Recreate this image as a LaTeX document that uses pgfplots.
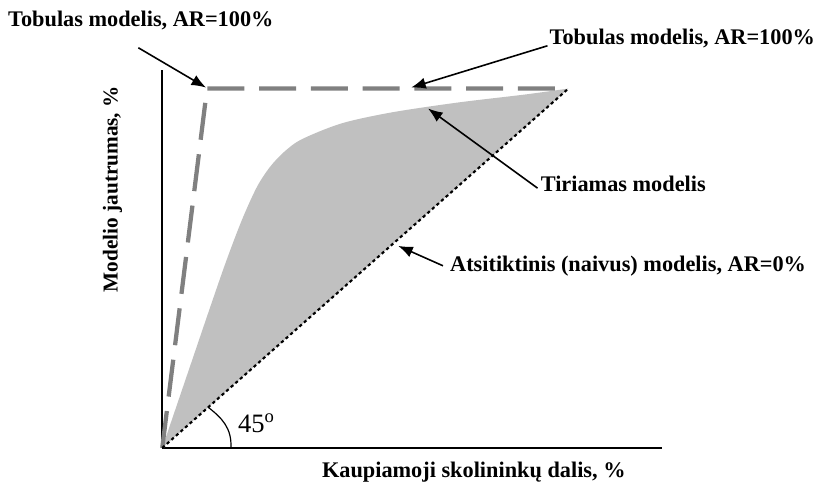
\documentclass[border=0pt]{standalone}
\usepackage{fontspec}
\setmainfont{Liberation Serif}
\usepackage{pgfplots}
\pgfplotsset{compat=1.18}
\usetikzlibrary{arrows.meta}
\definecolor{areagray}{HTML}{C0C0C0}
\definecolor{dashgray}{HTML}{808080}
\begin{document}
\begin{tikzpicture}
\begin{axis}[
  x=0.75pt, y=0.75pt,
  xmin=0, xmax=502, ymin=0, ymax=380,
  axis lines=left,
  axis line style={-, line width=1.2pt, black},
  xtick=\empty, ytick=\empty,
  clip=false,
]
% bounding box = reference frame
\path (axis cs:-163,450) rectangle (axis cs:652,-35);

% tested model area
\addplot[draw=none, fill=areagray, smooth, tension=0.5] coordinates {
 (0,0) (16,47) (32,94) (48,141) (64,187) (80,229) (95,262) (108,282) (122,297)
 (140,310) (180,326) (230,337) (297,347) (364,355) (408,361)
} -- cycle;

% perfect model
\addplot[dashgray, line width=3.2pt, dash pattern=on 28pt off 11pt] coordinates {
 (0,0) (45,361) (408,361)
};

% random model
\addplot[black, line width=1.6pt, dash pattern=on 2.4pt off 2.2pt] coordinates {
 (0,0) (408,361)
};

% angle mark
\draw[line width=0.9pt] (axis cs:46,41) .. controls (axis cs:60,30) and (axis cs:70,20) .. (axis cs:69,0);
\node[anchor=base west, font=\fontsize{20}{24}\selectfont, inner sep=0pt] at (axis cs:76,16) {45$^{\mathrm{o}}$};

% annotations
\tikzset{ann/.style={-{Latex[length=11pt,width=8.5pt]}, line width=1.2pt}}
\tikzset{lab/.style={anchor=base west, inner sep=0pt, font=\fontsize{16.8}{20}\selectfont\bfseries}}
\node[lab] at (axis cs:-155,423) {Tobulas modelis, AR=100\%};
\draw[ann] (axis cs:-24,402) -- (axis cs:44,362);

\node[lab] at (axis cs:389,405) {Tobulas modelis, AR=100\%};
\draw[ann] (axis cs:387,404) -- (axis cs:250,362);

\node[lab] at (axis cs:380,258) {Tiriamas modelis};
\draw[ann] (axis cs:377,261) -- (axis cs:267,341);

\node[lab] at (axis cs:289,177) {Atsitiktinis (naivus) modelis, AR=0\%};
\draw[ann] (axis cs:282,183) -- (axis cs:237,203);

% axis labels
\node[anchor=base, inner sep=0pt, font=\fontsize{16.8}{20}\selectfont\bfseries] at (axis cs:313,-30) {Kaupiamoji skolininkų dalis, \%};
\node[rotate=90, inner sep=0pt, font=\fontsize{16}{20}\selectfont\bfseries] at (axis cs:-50,260) {Modelio jautrumas, \%};
\end{axis}
\end{tikzpicture}
\end{document}
